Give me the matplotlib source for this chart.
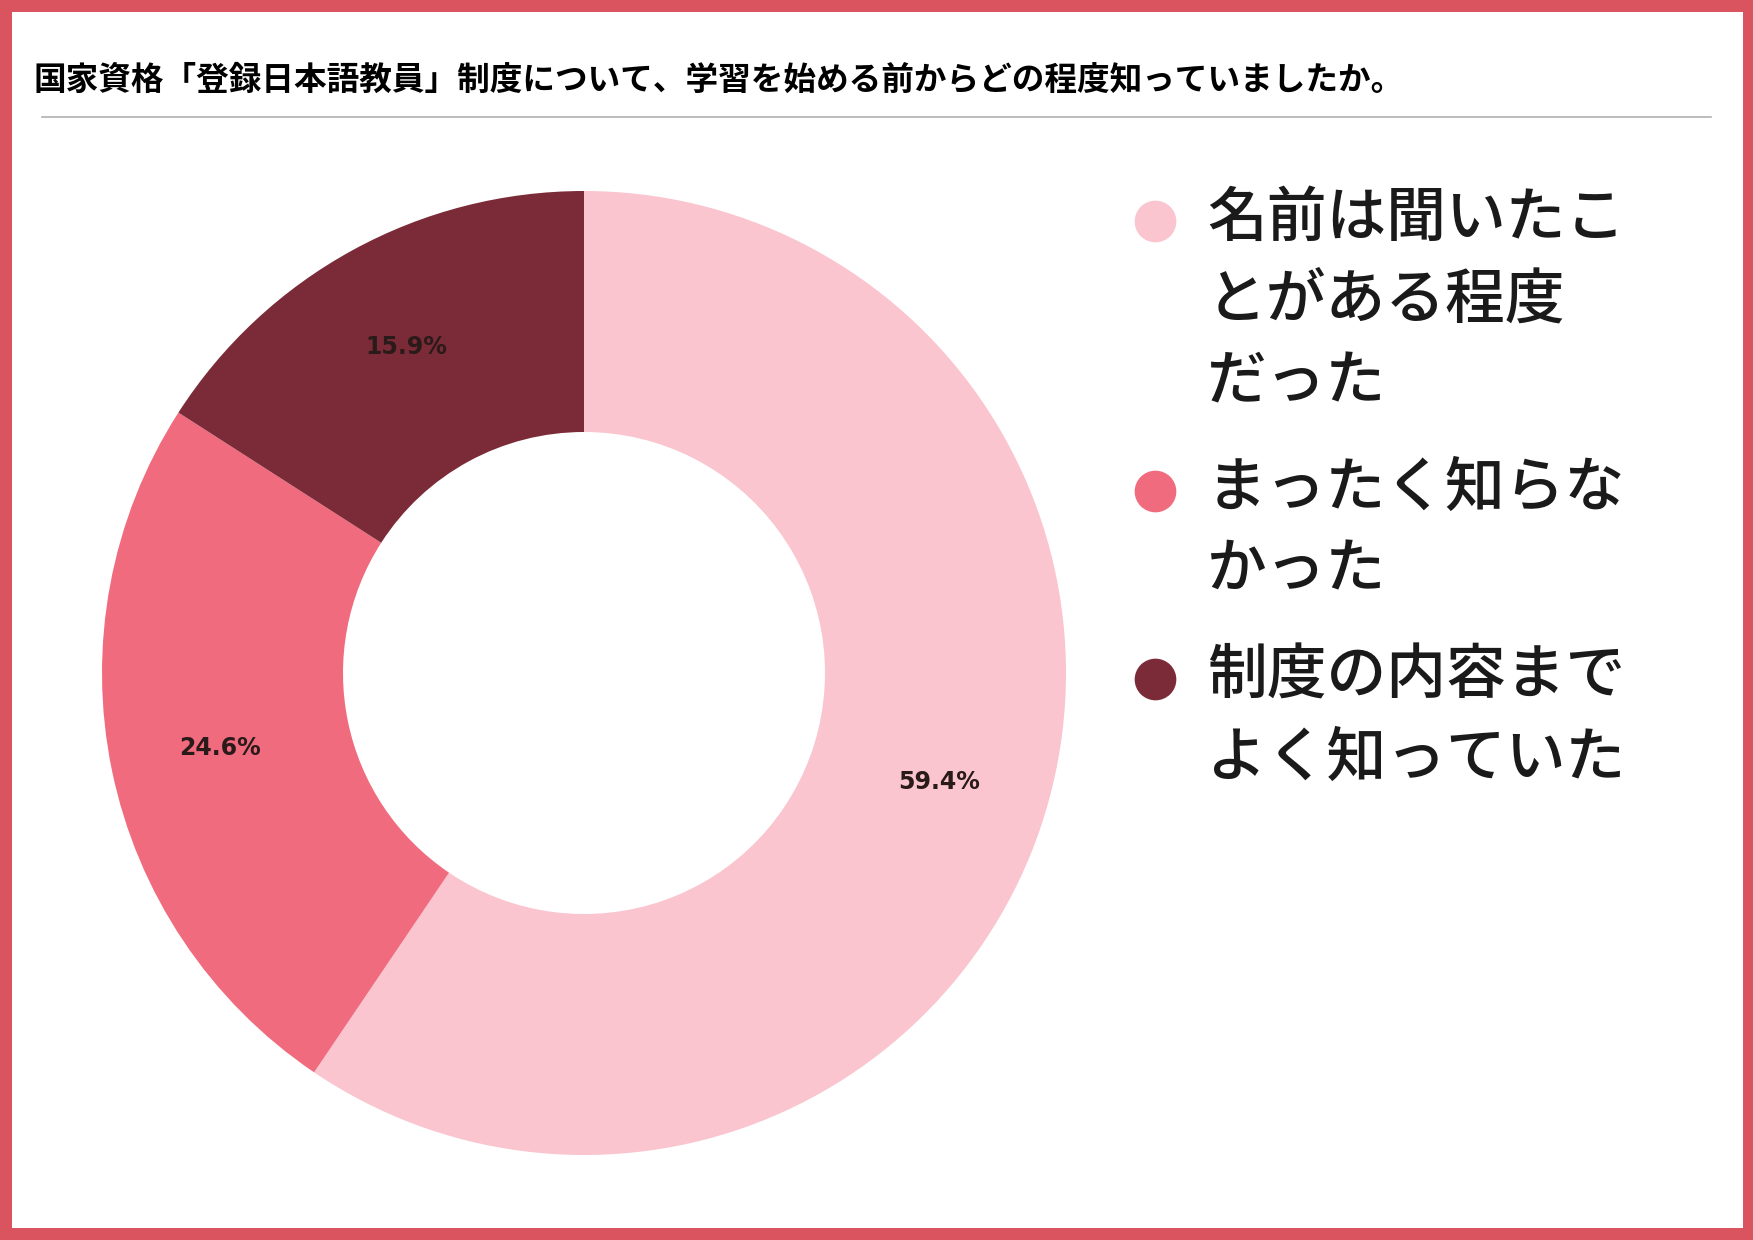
import matplotlib.pyplot as plt
from matplotlib.patches import Rectangle
from matplotlib.lines import Line2D

plt.rcParams['font.family'] = ['Noto Sans CJK JP', 'DejaVu Sans']

# data
title = '国家資格「登録日本語教員」制度について、学習を始める前からどの程度知っていましたか。'
categories = ['名前は聞いたことがある程度だった', 'まったく知らなかった', '制度の内容までよく知っていた']
legend_lines = [['名前は聞いたこ', 'とがある程度', 'だった'],
                ['まったく知らな', 'かった'],
                ['制度の内容まで', 'よく知っていた']]
values = [59.4, 24.6, 15.9]
colors = ['#fac5ce', '#f06b7e', '#7b2b37']

W, H = 1753, 1240
fig = plt.figure(figsize=(W / 100, H / 100), dpi=100)
fig.patch.set_facecolor('#d9545e')

def fx(px):
    return px / W

def fy(py):
    return 1 - py / H

# white panel inside red frame
fig.patches.append(Rectangle((fx(12), fy(1228)), fx(1743) - fx(12), fy(12) - fy(1228),
                             transform=fig.transFigure, facecolor='white', edgecolor='none', zorder=-10))

# title + rule
fig.text(fx(34), fy(80), title, fontsize=23.5, fontweight='bold', va='center', ha='left', color='black')
fig.lines.append(Line2D([fx(42), fx(1711)], [fy(117), fy(117)], transform=fig.transFigure,
                        color='#b0b0b0', lw=1.2))

# donut
cx, cy, r = 584, 673, 482
ax = fig.add_axes([fx(cx - r), fy(cy + r), fx(2 * r), fy(cy - r) - fy(cy + r)], zorder=2)
ax.patch.set_alpha(0)
pct_labels = [f'{v:.1f}%' for v in values]
wedges, texts = ax.pie(values, colors=colors, startangle=90, counterclock=False,
                       radius=1, wedgeprops=dict(width=0.5, edgecolor='none'),
                       labels=pct_labels, labeldistance=0.77,
                       textprops=dict(fontsize=17, fontweight='bold', color='#2a1a1a',
                                      family='DejaVu Sans'))
for t in texts:
    t.set_ha('center')
    t.set_va('center')
ax.set_xlim(-1, 1)
ax.set_ylim(-1, 1)
ax.set_aspect('equal')
ax.axis('off')

# legend
y = 218
for lines, col in zip(legend_lines, colors):
    fig.lines.append(Line2D([fx(1155)], [fy(y + 3)], transform=fig.transFigure, marker='o',
                            markersize=29, color=col, linestyle='none'))
    for ln in lines:
        fig.text(fx(1207), fy(y), ln, fontsize=43, fontweight='medium', va='center', ha='left',
                 color='#1a1a1a')
        y += 82
    y += 24

fig.savefig('out.png', dpi=100, facecolor=fig.get_facecolor())
